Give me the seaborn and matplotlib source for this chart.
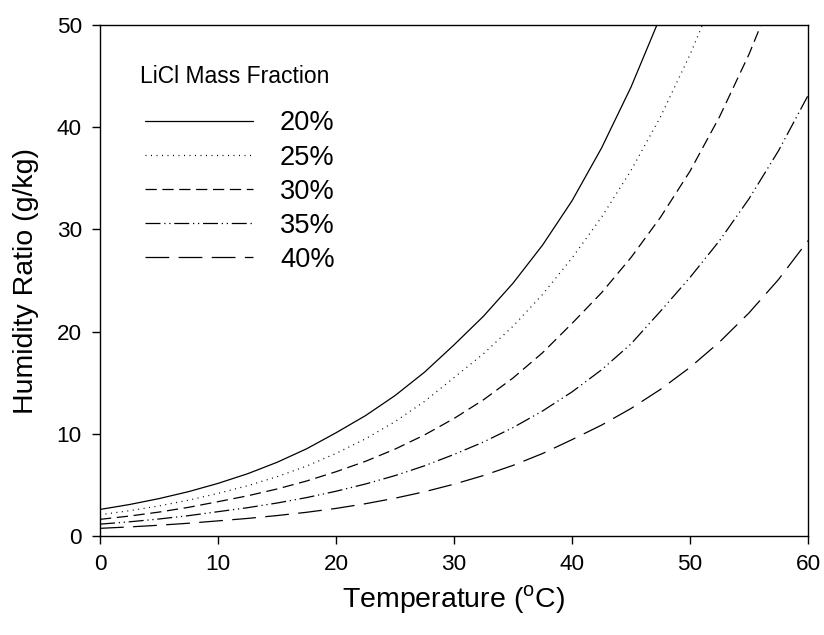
import numpy as np
import pandas as pd
import seaborn as sns
import matplotlib.pyplot as plt

# values (temperature in C, humidity ratio in g/kg)
temp = [0, 2.5, 5, 7.5, 10, 12.5, 15, 17.5, 20, 22.5, 25, 27.5, 30,
        32.5, 35, 37.5, 40, 42.5, 45, 47.5, 50, 52.5, 55, 57.5, 60]
w20 = [2.60, 3.08, 3.66, 4.34, 5.15, 6.09, 7.21, 8.53, 10.1, 11.78, 13.74, 16.03, 18.7,
       21.51, 24.74, 28.46, 32.8, 37.96, 43.93, 50.85, 58.8]
w25 = [2.08, 2.475, 2.945, 3.504, 4.17, 4.918, 5.80, 6.84, 8.08, 9.51, 11.19, 13.17, 15.5,
       17.84, 20.53, 23.63, 27.2, 31.19, 35.77, 41.02, 47.1, 54.0]
w30 = [1.63, 1.953, 2.341, 2.805, 3.36, 3.93, 4.60, 5.38, 6.29, 7.31, 8.50, 9.89, 11.5,
       13.33, 15.46, 17.93, 20.8, 23.8, 27.25, 31.19, 35.7, 41.02, 47.14, 54.2]
w35 = [1.16, 1.389, 1.663, 1.991, 2.38, 2.77, 3.226, 3.757, 4.38, 5.09, 5.91, 6.87, 7.98,
       9.20, 10.61, 12.23, 14.1, 16.26, 18.8, 22.0, 25.3, 28.9, 33.0, 37.7, 43.1]
w40 = [0.75, 0.889, 1.053, 1.248, 1.48, 1.72, 2.0, 2.32, 2.70, 3.16, 3.70, 4.33, 5.07,
       5.92, 6.91, 8.07, 9.43, 10.85, 12.48, 14.35, 16.5, 18.98, 21.83, 25.1, 28.9]
fractions = ["20%", "25%", "30%", "35%", "40%"]

frames = []
for name, vals in zip(fractions, [w20, w25, w30, w35, w40]):
    frames.append(pd.DataFrame({"T": temp[:len(vals)], "w": vals, "frac": name}))
df = pd.concat(frames, ignore_index=True)

sns.set_style("ticks")
plt.rcParams["font.family"] = ["Liberation Sans", "DejaVu Sans"]
plt.rcParams["mathtext.fontset"] = "custom"
plt.rcParams["mathtext.rm"] = "Liberation Sans"
plt.rcParams["text.color"] = "black"
plt.rcParams["axes.labelcolor"] = "black"

fig, ax = plt.subplots(figsize=(8.24, 6.35), dpi=100)
fig.subplots_adjust(left=0.1214, right=0.9806, top=0.9606, bottom=0.1559)

dash_map = {"20%": "", "25%": (0.8, 3.6), "30%": (9, 4.5),
            "35%": (12, 3, 1, 3, 1, 3), "40%": (19, 7.5)}
sns.lineplot(data=df, x="T", y="w", style="frac", dashes=dash_map,
             color="black", linewidth=0.9, ax=ax)

ax.set_xlim(0, 60)
ax.set_ylim(0, 50)
ax.set_xticks([0, 10, 20, 30, 40, 50, 60])
ax.set_yticks([0, 10, 20, 30, 40, 50])
ax.tick_params(direction="out", length=5.5, width=1, pad=7.5, labelsize=16.2, colors="black")
for s in ax.spines.values():
    s.set_visible(True)
    s.set_linewidth(1.0)
    s.set_color("black")

ax.set_xlabel("Temperature ($^{\\mathrm{o}}$C)", fontsize=20.5, labelpad=6)
ax.set_ylabel("Humidity Ratio (g/kg)", fontsize=20.5, labelpad=13)

handles, labels = ax.get_legend_handles_labels()
leg = ax.legend(handles, labels, loc="upper left", bbox_to_anchor=(0.0636, 0.833),
                frameon=False, borderpad=0, borderaxespad=0, handlelength=3.97,
                handletextpad=0.99, labelspacing=0.3, fontsize=19.6)
for t in leg.get_texts():
    t.set_color("black")
ax.text(0.0565, 0.8865, "LiCl Mass Fraction", transform=ax.transAxes,
        fontsize=16.5, ha="left", va="baseline", color="black")

fig.savefig("out.png", dpi=100)
